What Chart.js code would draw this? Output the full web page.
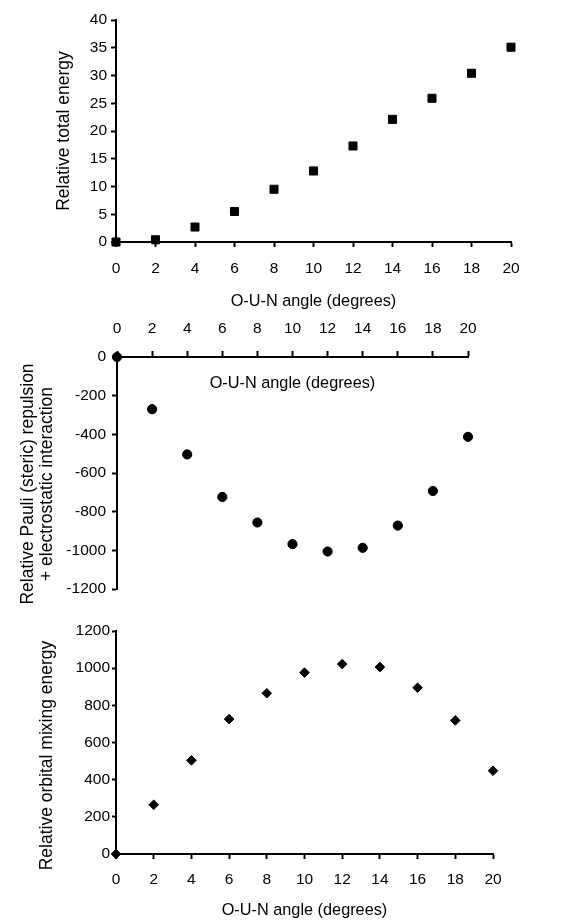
<!DOCTYPE html>
<html>
<head>
<meta charset="utf-8">
<script src="https://cdn.jsdelivr.net/npm/chart.js@4.4.1/dist/chart.umd.min.js"></script>
<style>
  html, body { margin: 0; padding: 0; background: #fff; }
  body { width: 572px; height: 920px; position: relative; overflow: hidden; }
  .box { position: absolute; left: 0; width: 572px; }
</style>
</head>
<body>
<div class="box" style="top:0;height:311px"><canvas id="c1"></canvas></div>
<div class="box" style="top:310px;height:300px"><canvas id="c2"></canvas></div>
<div class="box" style="top:610px;height:310px"><canvas id="c3"></canvas></div>
<script>
// ---- data ----
const angles = [0, 2, 4, 6, 8, 10, 12, 14, 16, 18, 20];
const totalEnergy = [0, 0.4, 2.7, 5.5, 9.5, 12.8, 17.3, 22.1, 25.9, 30.4, 35.1];
const pauliElectrostatic = [0, -270, -504, -724, -856, -968, -1006, -987, -872, -693, -413];
const orbitalMixing = [0, 265, 504, 726, 865, 976, 1022, 1006, 895, 719, 448];

const angleTicks = [0, 2, 4, 6, 8, 10, 12, 14, 16, 18, 20];
const totalTicks = [0, 5, 10, 15, 20, 25, 30, 35, 40];
const pauliTicks = [-1200, -1000, -800, -600, -400, -200, 0];
const orbitalTicks = [0, 200, 400, 600, 800, 1000, 1200];

const xTitle = 'O-U-N angle (degrees)';
const yTitle1 = 'Relative total energy';
const yTitle2 = ['Relative Pauli (steric) repulsion', '+ electrostatic interaction'];
const yTitle3 = 'Relative orbital mixing energy';

// ---- style ----
const FONT = "'Liberation Sans', Arial, Helvetica, sans-serif";
Chart.defaults.font.family = FONT;
Chart.defaults.color = '#000';

function pts(ys) { return angles.map((a, i) => ({ x: a, y: ys[i] })); }
function fixTicks(arr) { return s => { s.ticks = arr.map(v => ({ value: v })); }; }

function axisBase(ticksArr, min, max, tickLen, pad, size) {
  return {
    type: 'linear', min: min, max: max,
    afterBuildTicks: fixTicks(ticksArr),
    grid: { display: true, drawOnChartArea: false, drawTicks: true, tickLength: tickLen, color: '#000', tickWidth: 2 },
    border: { display: true, color: '#000', width: 2 },
    ticks: { padding: pad, color: '#000', font: { size: 15.5, family: FONT }, callback: v => String(v) },
    afterFit: s => { if (s.isHorizontal()) s.height = size; else s.width = size; }
  };
}

// draws titles relative to the chart area
const extraTitles = {
  id: 'extraTitles',
  afterDraw(chart, args, opts) {
    const ctx = chart.ctx, a = chart.chartArea;
    (opts.items || []).forEach(it => {
      ctx.save();
      ctx.font = it.size + 'px ' + FONT;
      ctx.fillStyle = '#000';
      ctx.textAlign = 'center';
      ctx.textBaseline = 'middle';
      const cx = it.x != null ? it.x : (a.left + a.right) / 2 + (it.dx || 0);
      const cy = (a.top + a.bottom) / 2 + (it.dy || 0);
      const y = it.yFromTop != null ? a.top + it.yFromTop : cy;
      ctx.translate(cx, y);
      if (it.rot) ctx.rotate(it.rot);
      ctx.fillText(it.text, 0, 0);
      ctx.restore();
    });
  }
};

function commonOpts() {
  return {
    responsive: true, maintainAspectRatio: false, animation: false, events: [],
    plugins: { legend: { display: false }, tooltip: { enabled: false } }
  };
}

// ---- chart 1 ----
(function () {
  const o = commonOpts();
  o.layout = { padding: { top: 20, right: 61, left: 0, bottom: 0 } };
  const x = axisBase(angleTicks, 0, 20, 5, 12, 69);
  x.position = 'bottom';
  x.title = { display: true, text: xTitle, color: '#000', font: { size: 16.3, family: FONT }, padding: { top: 0, bottom: 0 } };
  const y = axisBase(totalTicks, 0, 40, 5, 4, 116);
  y.position = 'left';
  y.title = { display: true, text: yTitle1, color: '#000', font: { size: 17.5, family: FONT }, padding: { top: 54, bottom: 0 } };
  o.scales = { x: x, y: y };
  new Chart(document.getElementById('c1'), {
    type: 'scatter',
    data: { datasets: [{ data: pts(totalEnergy), pointStyle: 'rect', pointRadius: 5.7, backgroundColor: '#000', borderColor: '#000', borderWidth: 1, clip: false }] },
    options: o
  });
})();

// ---- chart 2 ----
(function () {
  const o = commonOpts();
  o.layout = { padding: { top: 0, right: 104, left: 0, bottom: 21 } };
  const x = axisBase(angleTicks, 0, 20, 6, 13, 47);
  x.position = 'top';
  const y = axisBase(pauliTicks, -1200, 0, 5, 6, 117);
  y.position = 'left';
  o.scales = { x: x, y: y };
  o.plugins.extraTitles = {
    items: [
      { text: xTitle, size: 16.3, yFromTop: 26.5 },
      { text: yTitle2[0], size: 17.5, x: 28.5, dy: 11, rot: -Math.PI / 2 },
      { text: yTitle2[1], size: 17.5, x: 46.8, dy: 11, rot: -Math.PI / 2 }
    ]
  };
  new Chart(document.getElementById('c2'), {
    type: 'scatter',
    data: { datasets: [{ data: pts(pauliElectrostatic), pointStyle: 'circle', pointRadius: 4.6, backgroundColor: '#000', borderColor: '#000', borderWidth: 1, clip: false }] },
    options: o,
    plugins: [extraTitles]
  });
})();

// ---- chart 3 ----
(function () {
  const o = commonOpts();
  o.layout = { padding: { top: 21, right: 79, left: 0, bottom: 0 } };
  const x = axisBase(angleTicks, 0, 20, 5, 11, 66);
  x.position = 'bottom';
  x.title = { display: true, text: xTitle, color: '#000', font: { size: 16.3, family: FONT }, padding: { top: 0, bottom: 0 } };
  const y = axisBase(orbitalTicks, 0, 1200, 4, 2, 116);
  y.position = 'left';
  o.scales = { x: x, y: y };
  o.plugins.extraTitles = {
    items: [
      { text: yTitle3, size: 17.5, x: 47, dy: 13, rot: -Math.PI / 2 }
    ]
  };
  new Chart(document.getElementById('c3'), {
    type: 'scatter',
    data: { datasets: [{ data: pts(orbitalMixing), pointStyle: 'rectRot', pointRadius: 4.8, backgroundColor: '#000', borderColor: '#000', borderWidth: 1, clip: false }] },
    options: o,
    plugins: [extraTitles]
  });
})();
</script>
</body>
</html>
